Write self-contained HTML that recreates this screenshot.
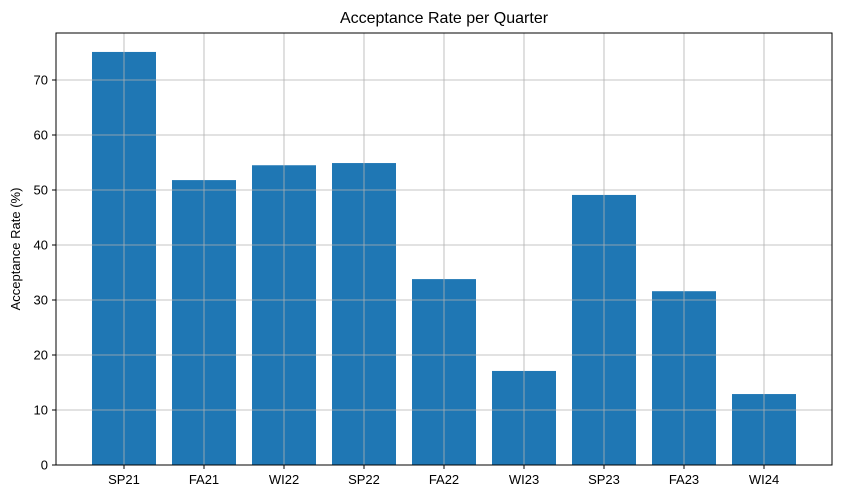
<!DOCTYPE html>
<html><head><meta charset="utf-8"><style>
body{margin:0;background:#fff;}
svg text{font-family:"Liberation Sans","DejaVu Sans",sans-serif;fill:#000;}
</style></head><body>
<svg id="chart" width="841" height="499" xmlns="http://www.w3.org/2000/svg">
<rect width="841" height="499" fill="#fff"/>
<text x="444" y="23" font-size="16" text-anchor="middle">Acceptance Rate per Quarter</text>
<text transform="translate(20,249) rotate(-90)" font-size="13" text-anchor="middle">Acceptance Rate (%)</text>
<g id="bars"></g><g id="grid"></g><g id="ticks"></g>
<rect x="56" y="33" width="776" height="432" fill="none" stroke="#000" stroke-width="1"/>
</svg>
<script>
const categories=["SP21","FA21","WI22","SP22","FA22","WI23","SP23","FA23","WI24"];
const values=[75.1,51.8,54.5,54.9,33.8,17.1,49.1,31.6,12.9];
const yTicks=[0,10,20,30,40,50,60,70];
const NS="http://www.w3.org/2000/svg";
const L=56,R=832,T=33,B=465;
const xs=i=>L+(i+0.85)/9.7*(R-L);
const ys=v=>B-v/78.545*(B-T);
const bw=0.8/9.7*(R-L);
function mk(tag,attrs,parent){const e=document.createElementNS(NS,tag);for(const k in attrs)e.setAttribute(k,attrs[k]);document.getElementById(parent).appendChild(e);return e;}
values.forEach((v,i)=>{
 const r=mk("rect",{x:xs(i)-bw/2,y:ys(v),width:bw,height:B-ys(v),fill:"#1f77b4"},"bars");
 
 
});
categories.forEach((c,i)=>{
 const g=mk("line",{x1:xs(i),x2:xs(i),y1:T,y2:B,stroke:"#b0b0b0","stroke-width":0.8},"grid");
 
 
 mk("line",{x1:xs(i),x2:xs(i),y1:B,y2:B+4,stroke:"#000"},"ticks");
 const t=mk("text",{x:xs(i),y:B+19,"font-size":13,"text-anchor":"middle"},"ticks");
 t.textContent=c;
 
 
});
yTicks.forEach(v=>{
 const g=mk("line",{x1:L,x2:R,y1:ys(v),y2:ys(v),stroke:"#b0b0b0","stroke-width":0.8},"grid");
 
 
 mk("line",{x1:L-4,x2:L,y1:ys(v),y2:ys(v),stroke:"#000"},"ticks");
 const t=mk("text",{x:L-8,y:ys(v)+4.5,"font-size":13,"text-anchor":"end"},"ticks");
 t.textContent=v;
 
 
});
</script>
</body></html>
